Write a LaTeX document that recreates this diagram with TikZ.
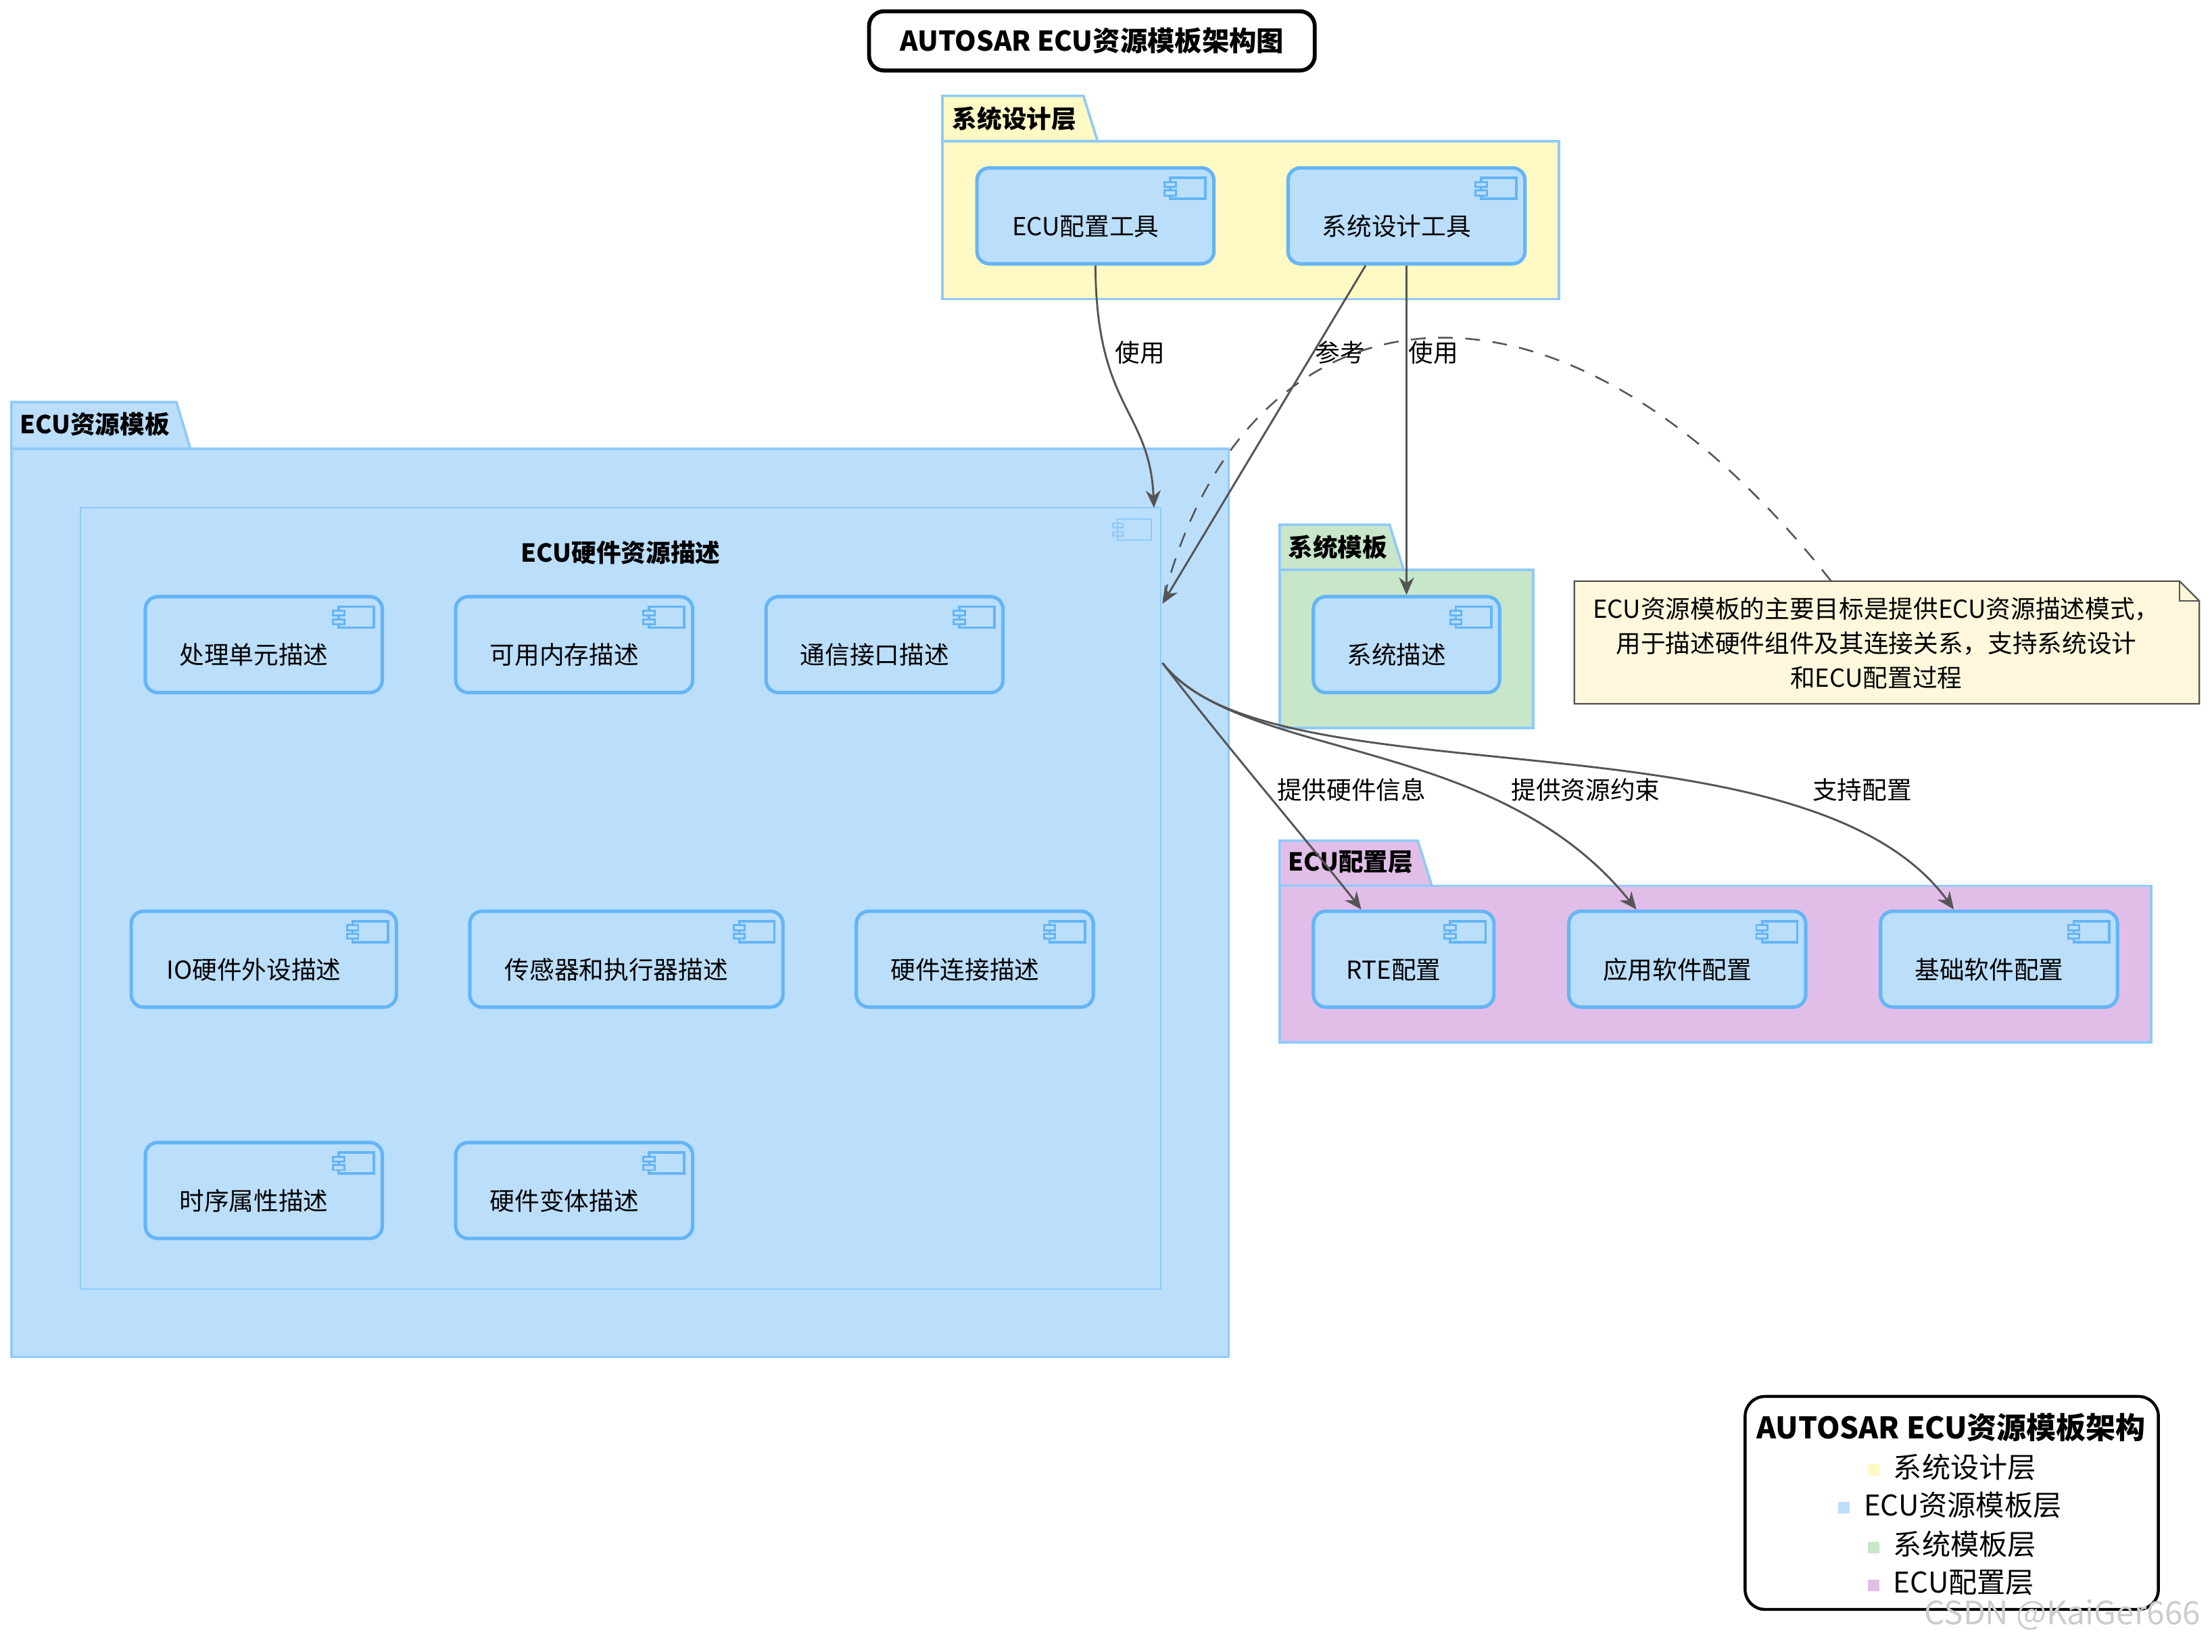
\documentclass[tikz,border=0pt]{standalone}
\usepackage{fontspec}
\setmainfont{Noto Sans CJK SC}
\usetikzlibrary{positioning,calc,arrows.meta,shapes.misc}
\definecolor{bluefill}{HTML}{BBDEFB}
\definecolor{blueline}{HTML}{64B5F6}
\definecolor{pkgline}{HTML}{90CAF9}
\definecolor{yellowfill}{HTML}{FFF9C4}
\definecolor{greenfill}{HTML}{C8E6C9}
\definecolor{purplefill}{HTML}{E1BEE7}
\definecolor{notefill}{HTML}{FFF8DC}
\definecolor{arrowgray}{HTML}{555555}
\newcommand{\ctext}[1]{\makebox[0pt]{\hspace*{-0.28cm}\raisebox{-0.28cm}[0pt][0pt]{#1}}}
\tikzset{
  comp/.style={draw=blueline, line width=1.4pt, fill=bluefill, rounded corners=5pt,
    minimum height=1.36cm, minimum width=3.36cm, inner sep=0pt,
    font=\fontsize{10}{12}\selectfont,
    path picture={\draw[blueline, line width=1pt, fill=bluefill, sharp corners]
      ([xshift=-0.62cm,yshift=-0.14cm]path picture bounding box.north east) rectangle ++(0.5cm,-0.3cm);
      \draw[blueline, line width=0.8pt, fill=bluefill, sharp corners]
      ([xshift=-0.7cm,yshift=-0.2cm]path picture bounding box.north east) rectangle ++(0.16cm,-0.07cm)
      ([xshift=-0.7cm,yshift=-0.32cm]path picture bounding box.north east) rectangle ++(0.16cm,-0.07cm);}},
  pkg/.style={draw=pkgline, line width=1pt, inner sep=0pt},
  tab/.style={draw=pkgline, line width=1pt},
  tabtext/.style={font=\fontsize{10}{12}\selectfont\bfseries, anchor=west, inner sep=1pt},
  conn/.style={-{Stealth[length=7pt,width=6pt]}, arrowgray, line width=0.8pt},
  lbl/.style={font=\fontsize{10}{12}\selectfont, black},
  legtext/.style={font=\fontsize{11.5}{13}\selectfont, anchor=west},
  legsq/.style={minimum size=0.16cm, inner sep=0pt}
}
\begin{document}
\begin{tikzpicture}[x=0.02cm, y=-0.02cm]
  \useasboundingbox (0,0) rectangle (1568,1171);
  % title
  \node [draw, line width=1.6pt, rounded corners=6pt, minimum width=6.32cm, minimum height=0.84cm,
         font=\fontsize{11}{13}\selectfont\bfseries] (title) at (774,29) {AUTOSAR ECU资源模板架构图};

  % system design layer
  \draw [tab, fill=yellowfill] (668,100) -- (668,68) -- (768,68) -- (778,100) -- cycle;
  \node [tabtext] (sysTab) at (673,84) {系统设计层};
  \node [pkg, fill=yellowfill, minimum width=8.74cm, minimum height=2.24cm] (sysPkg) at (886.5,156) {};
  \node [comp] (ecuTool) at (776.5,153) {\ctext{ECU配置工具}};
  \node [comp] (sysTool) at (997,153) {\ctext{系统设计工具}};

  % ECU resource template
  \draw [tab, fill=bluefill] (8,318) -- (8,285) -- (125,285) -- (135,318) -- cycle;
  \node [tabtext] (resTab) at (12,301) {ECU资源模板};
  \node [pkg, fill=bluefill, minimum width=17.26cm, minimum height=12.88cm] (resPkg) at (439.5,640) {};
  \node [draw=pkgline, line width=0.6pt, fill=bluefill, minimum width=15.32cm, minimum height=11.08cm,
         inner sep=0pt] (hwDesc) at (440,637) {};
  \node [font=\fontsize{10}{12}\selectfont\bfseries] (hwTitle) at (440,392) {ECU硬件资源描述};
  \draw [pkgline, line width=0.6pt] (792,368) rectangle (816,383) (789,371) rectangle (796,374) (789,377) rectangle (796,380);
  \node [comp] (cpu)    at (187,457) {\ctext{处理单元描述}};
  \node [comp] (mem)    at (407,457) {\ctext{可用内存描述}};
  \node [comp] (com)    at (627,457) {\ctext{通信接口描述}};
  \node [comp, minimum width=3.76cm] (io)  at (187,680) {\ctext{IO硬件外设描述}};
  \node [comp, minimum width=4.44cm] (sen)  at (444,680) {\ctext{传感器和执行器描述}};
  \node [comp] (link)   at (691,680) {\ctext{硬件连接描述}};
  \node [comp] (timing) at (187,844) {\ctext{时序属性描述}};
  \node [comp] (variant) at (407,844) {\ctext{硬件变体描述}};
  \coordinate (hwIn1) at (818,360);
  \coordinate (hwIn2) at (824,428);
  \coordinate (hwOut) at (824,470);

  % system template
  \draw [tab, fill=greenfill] (907,404) -- (907,372) -- (985,372) -- (995,404) -- cycle;
  \node [tabtext] (stTab) at (911,388) {系统模板};
  \node [pkg, fill=greenfill, minimum width=3.6cm, minimum height=2.24cm] (stPkg) at (997,460) {};
  \node [comp, minimum width=2.64cm] (sysDesc) at (997,457) {\ctext{系统描述}};

  % ECU configuration layer
  \draw [tab, fill=purplefill] (907,628) -- (907,596) -- (1005,596) -- (1015,628) -- cycle;
  \node [tabtext] (cfgTab) at (911,611) {ECU配置层};
  \node [pkg, fill=purplefill, minimum width=12.36cm, minimum height=2.22cm] (cfgPkg) at (1216,683.5) {};
  \node [comp, minimum width=2.56cm] (rte) at (995,680) {\ctext{RTE配置}};
  \node [comp] (app) at (1196,680) {\ctext{应用软件配置}};
  \node [comp] (bsw) at (1417,680) {\ctext{基础软件配置}};

  % note
  \draw [arrowgray, line width=0.6pt, fill=notefill] (1116,412) -- (1545,412) -- (1559,426) -- (1559,499) -- (1116,499) -- cycle;
  \draw [arrowgray, line width=0.6pt] (1545,412) -- (1545,426) -- (1559,426);
  \node [align=center, font=\fontsize{10}{14}\selectfont] (note) at (1330,456)
    {ECU资源模板的主要目标是提供ECU资源描述模式，\\用于描述硬件组件及其连接关系，支持系统设计\\和ECU配置过程};
  \coordinate (noteTop) at (1298,412);

  % connectors
  \draw [conn] (ecuTool.south) .. controls (777,290) and (815,290) .. (hwIn1);
  \draw [conn] ([xshift=-0.58cm]sysTool.south) -- (hwIn2);
  \draw [conn] (sysTool.south) -- (sysDesc.north);
  \draw [arrowgray, line width=0.7pt, dash pattern=on 6pt off 5pt] (noteTop) .. controls (1100,160) and (880,200) .. (hwIn2);
  \draw [conn] (hwOut) .. controls (870,530) and (930,600) .. ([xshift=-0.6cm]rte.north);
  \draw [conn] (hwOut) .. controls (880,540) and (1060,520) .. ([xshift=-0.72cm]app.north);
  \draw [conn] (hwOut) .. controls (900,570) and (1280,500) .. ([xshift=-0.64cm]bsw.north);
  \node [lbl] (l1) at (808,250) {使用};
  \node [lbl] (l2) at (950,250) {参考};
  \node [lbl] (l3) at (1016,250) {使用};
  \node [lbl] (l4) at (958,560) {提供硬件信息};
  \node [lbl] (l5) at (1124,560) {提供资源约束};
  \node [lbl] (l6) at (1320,560) {支持配置};

  % legend
  \node [draw, line width=1.2pt, rounded corners=8pt, minimum width=5.86cm, minimum height=3.02cm] (legend) at (1383.5,1065.5) {};
  \node [font=\fontsize{12}{14}\selectfont\bfseries] (legTitle) at (1383,1012) {AUTOSAR ECU资源模板架构};
  \node [legtext] (leg1) at (1336,1040) {系统设计层};
  \node [legtext] (leg2) at (1315,1067) {ECU资源模板层};
  \node [legtext] (leg3) at (1336,1095) {系统模板层};
  \node [legtext] (leg4) at (1336,1122) {ECU配置层};
  \node [legsq, fill=yellowfill] (sq1) at (1328,1042) {};
  \node [legsq, fill=bluefill]   (sq2) at (1307,1069) {};
  \node [legsq, fill=greenfill]  (sq3) at (1328,1097) {};
  \node [legsq, fill=purplefill] (sq4) at (1328,1124) {};
  \node [text=gray!40, font=\fontsize{13}{15}\selectfont, anchor=east] (mark) at (1566,1145) {CSDN @KaiGer666};
\end{tikzpicture}
\end{document}
